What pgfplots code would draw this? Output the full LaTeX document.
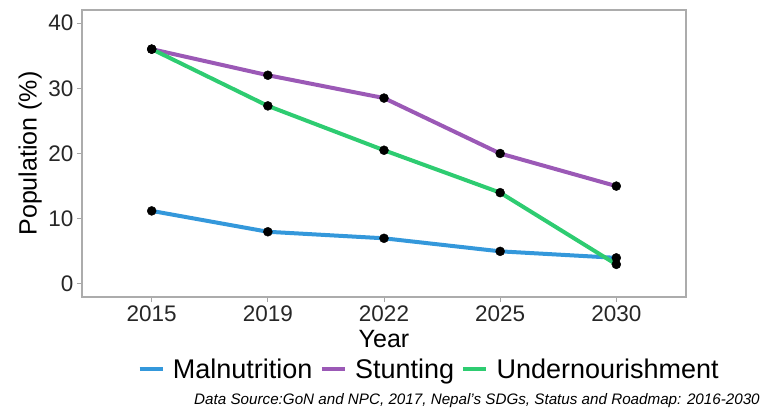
\documentclass[border=0pt]{standalone}
\usepackage{pgfplots}
\pgfplotsset{compat=1.18}
\usepackage{fontspec}
\setmainfont{Liberation Sans}
\definecolor{cMal}{HTML}{3498DB}
\definecolor{cStu}{HTML}{9B59B6}
\definecolor{cUnd}{HTML}{2ECC71}
\begin{document}
\begin{tikzpicture}
\useasboundingbox (-82bp,-118bp) rectangle (682bp,297bp);
\begin{axis}[
  at={(0,0)}, anchor=south west,
  scale only axis, width=604bp, height=287bp,
  xmin=-0.6, xmax=4.6, ymin=-2, ymax=42,
  xtick={0,1,2,3,4}, xticklabels={2015,2019,2022,2025,2030},
  ytick={0,10,20,30,40},
  /pgf/number format/assume math mode=true,
  tick align=outside, major tick length=5bp,
  xtick pos=bottom, ytick pos=left,
  tick style={gray!70, line width=1bp},
  axis line style={gray!65, line width=1.5bp},
  ticklabel style={font=\fontsize{22.5bp}{24bp}\selectfont, text=black!85},
  xlabel={Year}, ylabel={Population (\%)},
  label style={font=\fontsize{25bp}{27bp}\selectfont},
  xlabel style={at={(axis description cs:0.5,-0.148)}, anchor=center},
  ylabel style={at={(axis description cs:-0.086,0.5)}, anchor=center, rotate=0},
  clip=false,
  legend columns=3,
  legend style={at={(axis description cs:0.573,-0.251)}, anchor=center,
    draw=none, fill=none, font=\fontsize{27bp}{29bp}\selectfont,
    column sep=0bp, inner sep=0bp, nodes={inner xsep=0bp, inner ysep=1bp},
    /tikz/every odd column/.append style={column sep=8bp},
    /tikz/every even column/.append style={column sep=7bp}},
  legend image code/.code={\draw[line width=4.5bp] (0bp,0bp) -- (23bp,0bp);},
]
\addplot[cMal, line width=4bp] coordinates {(0,11.2) (1,8) (2,7) (3,5) (4,4)};
\addlegendentry{Malnutrition}
\addplot[cStu, line width=4bp] coordinates {(0,36) (1,32) (2,28.5) (3,20) (4,15)};
\addlegendentry{Stunting}
\addplot[cUnd, line width=4bp] coordinates {(0,36) (1,27.3) (2,20.5) (3,14) (4,3)};
\addlegendentry{Undernourishment}
\addplot[only marks, mark=*, mark size=4.5bp, black, forget plot] coordinates {(0,11.2) (1,8) (2,7) (3,5) (4,4)};
\addplot[only marks, mark=*, mark size=4.5bp, black, forget plot] coordinates {(0,36) (1,32) (2,28.5) (3,20) (4,15)};
\addplot[only marks, mark=*, mark size=4.5bp, black, forget plot] coordinates {(0,36) (1,27.3) (2,20.5) (3,14) (4,3)};
\node[anchor=east, inner sep=0pt, font=\fontsize{15.2bp}{17bp}\selectfont\itshape] at (axis description cs:1.1225,-0.362) {Data Source:GoN and NPC, 2017, Nepal's SDGs, Status and Roadmap: 2016-2030};
\end{axis}
\end{tikzpicture}
\end{document}
